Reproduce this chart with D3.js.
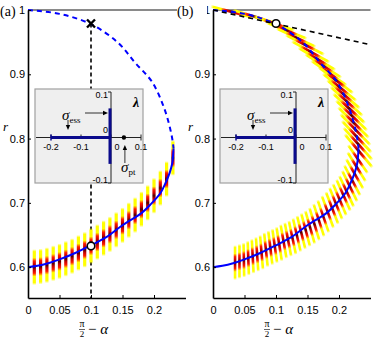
<!DOCTYPE html>
<html>
<head>
<meta charset="utf-8">
<script src="https://cdn.jsdelivr.net/npm/d3@7"></script>
<style>
  body { margin: 0; background: #fff; }
  svg { display: block; }
  text { font-family: "Liberation Sans", Arial, sans-serif; fill: #000; }
  .serif { font-family: "Liberation Serif", "DejaVu Serif", serif; }
</style>
</head>
<body>
<div id="chart"></div>
<script>
// ---- data ----
const xTicks = [0, 0.05, 0.1, 0.15, 0.2];
const yTicks = [0.6, 0.7, 0.8, 0.9, 1];

// blue curve, upper (dashed) branch and lower (solid) branch
const dashX = [0, 0.05, 0.1, 0.143, 0.17, 0.197, 0.217, 0.228, 0.231];
const dashR = [1, 0.994, 0.978, 0.949, 0.918, 0.888, 0.845, 0.805, 0.785];
const solidX = [0.231, 0.229, 0.225, 0.217, 0.21, 0.195, 0.18, 0.151, 0.125, 0.1, 0.075, 0.05, 0.032, 0.015, 0];
const solidR = [0.785, 0.762, 0.747, 0.728, 0.715, 0.698, 0.684, 0.666, 0.647, 0.634, 0.622, 0.612, 0.606, 0.602, 0.6];

// panel (a) distributions (vertical streaks)
const aStreakX = [0.01, 0.02, 0.03, 0.04, 0.05, 0.06, 0.07, 0.08, 0.09, 0.10, 0.11, 0.12,
                  0.13, 0.14, 0.15, 0.16, 0.17, 0.18, 0.19, 0.20, 0.21, 0.22, 0.23];
const aStreakR = [0.600, 0.601, 0.603, 0.606, 0.609, 0.613, 0.617, 0.622, 0.627, 0.633, 0.639, 0.645,
                  0.651, 0.658, 0.665, 0.673, 0.681, 0.690, 0.700, 0.711, 0.723, 0.737, 0.770];

// panel (b) distributions (tilted streaks): upper branch first, then lower branch
const bUpperX = [0.03, 0.065, 0.097, 0.117, 0.132, 0.146, 0.155, 0.165, 0.175, 0.184, 0.195, 0.201,
                 0.207, 0.212, 0.216, 0.220, 0.223, 0.226, 0.228, 0.230, 0.231];
const bUpperR = [0.997, 0.990, 0.979, 0.968, 0.957, 0.946, 0.935, 0.924, 0.913, 0.902, 0.891, 0.880,
                 0.869, 0.858, 0.847, 0.836, 0.825, 0.814, 0.803, 0.792, 0.781];
const bUpperAng = [15, 17, 19, 22, 25, 27, 29, 31, 33, 35, 37, 39,
                   41, 42, 43, 44, 45, 46, 47, 48, 50];
const bLowerX = [0.230, 0.228, 0.225, 0.221, 0.217, 0.212, 0.207, 0.201, 0.195, 0.189, 0.182, 0.175,
                 0.168, 0.161, 0.154, 0.147, 0.140, 0.133, 0.126, 0.119, 0.112, 0.105, 0.098, 0.091,
                 0.084, 0.077, 0.070, 0.063, 0.056, 0.049, 0.042, 0.035];
const bLowerR = [0.768, 0.756, 0.745, 0.735, 0.726, 0.718, 0.712, 0.705, 0.699, 0.692, 0.686, 0.679,
                 0.673, 0.667, 0.662, 0.658, 0.654, 0.650, 0.646, 0.643, 0.640, 0.636, 0.633, 0.630,
                 0.627, 0.623, 0.620, 0.617, 0.614, 0.611, 0.609, 0.607];
const bLowerAng = [55, 58, 60, 62, 64, 65, 66, 67, 68, 69, 70, 71,
                   72, 73, 74, 75, 76, 77, 78, 79, 80, 81, 82, 83,
                   84, 85, 86, 87, 88, 89, 90, 90];

// marked points
const markX = 0.1, markTopR = 0.979, markLowR = 0.633;
const tangentX = [0, 0.25];
const tangentR = [1, 0.946];

// inset (spectrum) data
const insetXTicks = [-0.2, -0.1, 0, 0.1];
const insetYTicks = [-0.1, 0, 0.1];
const essReal = [-0.2, -0.004];
const essImag = [-0.058, 0.064];
const sigmaPt = 0.043;

// ---- drawing ----
const W = 374, H = 339;
const svg = d3.select('#chart').append('svg').attr('width', W).attr('height', H);

const defs = svg.append('defs');
const grad = defs.append('linearGradient').attr('id', 'streak')
  .attr('x1', 0).attr('y1', 0).attr('x2', 0).attr('y2', 1);
[[0, '#ffff00', 0], [0.07, '#ffff00', 1], [0.24, '#ffff00', 1], [0.33, '#ff1a00', 1],
 [0.43, '#c00000', 1], [0.5, '#500000', 1], [0.57, '#c00000', 1], [0.67, '#ff1a00', 1],
 [0.76, '#ffff00', 1], [0.93, '#ffff00', 1], [1, '#ffff00', 0]].forEach(s => {
  grad.append('stop').attr('offset', s[0]).attr('stop-color', s[1]).attr('stop-opacity', s[2]);
});

const line = d3.line().curve(d3.curveCatmullRom);

function streaks(g, x, y, xs, rs, angs, w, len) {
  g.append('g').selectAll('rect')
    .data(xs.map((d, i) => ({ x: d, r: rs[i], a: angs[i] })))
    .join('rect')
    .attr('x', -w / 2).attr('y', -len / 2).attr('width', w).attr('height', len)
    .attr('transform', d => `translate(${x(d.x)},${y(d.r)}) rotate(${d.a - 90})`)
    .attr('fill', 'url(#streak)');
}

function drawPanel(ox, label, opts) {
  const g = svg.append('g');
  const x = d3.scaleLinear().domain([0, 0.25]).range([28 + ox, 185.5 + ox]);
  const y = d3.scaleLinear().domain([0.552, 1]).range([298, 10]);

  // r = 1 reference line
  g.append('line').attr('x1', x(0)).attr('x2', x(0.25)).attr('y1', y(1)).attr('y2', y(1))
    .attr('stroke', '#8a8a8a').attr('stroke-width', 2);

  if (opts.vline) {
    g.append('line').attr('x1', x(markX)).attr('x2', x(markX)).attr('y1', y(markTopR)).attr('y2', y(0.552))
      .attr('stroke', '#000').attr('stroke-width', 1.6).attr('stroke-dasharray', '4,3');
  }

  // streaks
  if (opts.tilted) {
    streaks(g, x, y, bUpperX, bUpperR, bUpperAng, 2.8, 44);
    streaks(g, x, y, bLowerX, bLowerR, bLowerAng, 2.6, 35);
  } else {
    streaks(g, x, y, aStreakX, aStreakR, aStreakX.map(() => 90), 3.2, 36);
  }

  // blue curve
  g.append('path').attr('d', line(dashX.map((d, i) => [x(d), y(dashR[i])])))
    .attr('fill', 'none').attr('stroke', '#0000ff').attr('stroke-width', 2).attr('stroke-dasharray', '5,4');
  g.append('path').attr('d', line(solidX.map((d, i) => [x(d), y(solidR[i])])))
    .attr('fill', 'none').attr('stroke', '#0000ff').attr('stroke-width', 2);

  if (opts.tangent) {
    g.append('path').attr('d', d3.line()(tangentX.map((d, i) => [x(d), y(tangentR[i])])))
      .attr('fill', 'none').attr('stroke', '#000').attr('stroke-width', 1.6).attr('stroke-dasharray', '5,4');
  }

  // markers
  if (opts.cross) {
    const cx = x(markX), cy = y(markTopR), s = 4;
    g.append('path').attr('d', `M${cx - s},${cy - s}L${cx + s},${cy + s}M${cx - s},${cy + s}L${cx + s},${cy - s}`)
      .attr('stroke', '#000').attr('stroke-width', 2.4);
  }
  const circR = opts.cross ? markLowR : markTopR;
  g.append('circle').attr('cx', x(markX)).attr('cy', y(circR)).attr('r', 3.8)
    .attr('fill', '#fff').attr('stroke', '#000').attr('stroke-width', 1.6);

  // axes
  const ax = g.append('g').attr('transform', `translate(0,${y(0.552)})`)
    .call(d3.axisBottom(x).tickValues(xTicks).tickSizeInner(-3).tickSizeOuter(0).tickFormat(d3.format('')));
  ax.select('.domain').attr('stroke-width', 1.6);
  ax.selectAll('text').attr('dy', null).attr('y', 16).style('font-size', '11px');
  const ay = g.append('g').attr('transform', `translate(${x(0)},0)`)
    .call(d3.axisLeft(y).tickValues(yTicks).tickSizeInner(-3).tickSizeOuter(0).tickFormat(d3.format('')));
  ay.select('.domain').attr('stroke-width', 1.6);
  ay.selectAll('text').attr('x', -3).style('font-size', '11px');
  [ax, ay].forEach(a => a.attr('font-family', null).attr('font-size', null));

  // axis labels
  const xl = g.append('g').attr('transform', `translate(${x(0.1) - 13},0)`);
  xl.append('text').attr('class', 'serif').attr('x', 4).attr('y', 327).attr('text-anchor', 'middle')
    .style('font-size', '10px').text('π');
  xl.append('line').attr('x1', 1).attr('x2', 7).attr('y1', 329.5).attr('y2', 329.5).attr('stroke', '#000').attr('stroke-width', 0.6);
  xl.append('text').attr('class', 'serif').attr('x', 4).attr('y', 337).attr('text-anchor', 'middle')
    .style('font-size', '9px').text('2');
  xl.append('text').attr('class', 'serif').attr('x', 10).attr('y', 334).style('font-size', '15px')
    .html('− <tspan font-style="italic">α</tspan>');
  g.append('text').attr('class', 'serif').attr('x', x(0) - 25).attr('y', 131).style('font-size', '13px')
    .style('font-style', 'italic').text('r');

  // panel label
  const lx = ox === 0 ? 0 : ox - 8;
  if (opts.labelBg) {
    g.append('rect').attr('x', lx).attr('y', 0).attr('width', 30).attr('height', 20).attr('fill', '#fff');
  }
  g.append('text').attr('class', 'serif').attr('x', lx).attr('y', 16).style('font-size', '14px').text(label);

  // ---- inset ----
  const ix = d3.scaleLinear().domain([-0.2, 0.1]).range([51 + ox, 141 + ox]);
  const iy = d3.scaleLinear().domain([-0.1, 0.1]).range([183, 92]);
  const ins = g.append('g');
  ins.append('rect').attr('x', 35 + ox).attr('y', 89).attr('width', 108).attr('height', 94)
    .attr('fill', '#efefef').attr('stroke', '#a0a0a0').attr('stroke-width', 1.2);
  // real axis
  ins.append('line').attr('x1', 36 + ox).attr('x2', ix(0.1)).attr('y1', iy(0)).attr('y2', iy(0))
    .attr('stroke', '#222').attr('stroke-width', 1);
  ins.selectAll('.xt').data(insetXTicks).join('line')
    .attr('x1', d => ix(d)).attr('x2', d => ix(d))
    .attr('y1', d => iy(0) - 3).attr('y2', d => d === 0.1 ? iy(0) + 3 : iy(0))
    .attr('stroke', '#222').attr('stroke-width', 1);
  ins.selectAll('.xl').data(insetXTicks).join('text')
    .attr('x', d => d === 0 ? ix(d) + 6 : ix(d)).attr('y', iy(0) + 12)
    .attr('text-anchor', 'middle').style('font-size', '9px')
    .text(d => d3.format('')(d).replace('−', '-'));
  // imaginary axis
  ins.append('line').attr('x1', ix(0)).attr('x2', ix(0)).attr('y1', iy(0.1)).attr('y2', iy(-0.1))
    .attr('stroke', '#222').attr('stroke-width', 1);
  ins.selectAll('.yt').data(insetYTicks.filter(d => d !== 0)).join('line')
    .attr('x1', ix(0) - 3).attr('x2', ix(0)).attr('y1', d => iy(d)).attr('y2', d => iy(d))
    .attr('stroke', '#222').attr('stroke-width', 1);
  ins.selectAll('.yl').data(insetYTicks).join('text')
    .attr('x', ix(0) - 3).attr('y', d => d === 0 ? iy(0) - 5 : iy(d) + (d > 0 ? 6 : 0))
    .attr('text-anchor', 'end').style('font-size', '9px')
    .text(d => d3.format('')(d).replace('−', '-'));
  // essential spectrum
  ins.append('line').attr('x1', ix(essReal[0])).attr('x2', ix(essReal[1])).attr('y1', iy(0)).attr('y2', iy(0))
    .attr('stroke', '#0a0a8c').attr('stroke-width', 3);
  ins.append('line').attr('x1', ix(essReal[0])).attr('x2', ix(essReal[0])).attr('y1', iy(0) - 3).attr('y2', iy(0) + 3)
    .attr('stroke', '#0a0a8c').attr('stroke-width', 1.5);
  ins.append('line').attr('x1', ix(0) - 1).attr('x2', ix(0) - 1).attr('y1', iy(essImag[1])).attr('y2', iy(essImag[0]))
    .attr('stroke', '#0a0a8c').attr('stroke-width', 3);
  // lambda label
  ins.append('text').attr('class', 'serif').attr('x', 133 + ox).attr('y', 107)
    .style('font-size', '14px').style('font-style', 'italic').style('font-weight', 'bold').text('λ');
  // sigma_ess label and arrows
  const lab = ins.append('text').attr('class', 'serif').attr('x', 62 + ox).attr('y', 120);
  lab.append('tspan').style('font-size', '15px').style('font-style', 'italic').text('σ');
  lab.append('tspan').attr('dy', 3).style('font-size', '9px').text('ess');
  arrow(ins, 85 + ox, 113, 108 + ox, 113);
  arrow(ins, 68 + ox, 120, 68 + ox, 130);
  if (opts.point) {
    ins.append('circle').attr('cx', ix(sigmaPt)).attr('cy', iy(0)).attr('r', 2.2).attr('fill', '#000');
    arrow(ins, ix(sigmaPt) + 1, 163, ix(sigmaPt) + 1, 145);
    const pl = ins.append('text').attr('class', 'serif').attr('x', 121 + ox).attr('y', 172);
    pl.append('tspan').style('font-size', '15px').style('font-style', 'italic').text('σ');
    pl.append('tspan').attr('dy', 3).style('font-size', '9px').text('pt');
  }
}

function arrow(g, x1, y1, x2, y2) {
  const a = Math.atan2(y2 - y1, x2 - x1), L = 5, w = 2.2;
  g.append('line').attr('x1', x1).attr('y1', y1)
    .attr('x2', x2 - (L - 1) * Math.cos(a)).attr('y2', y2 - (L - 1) * Math.sin(a))
    .attr('stroke', '#000').attr('stroke-width', 0.8);
  const bx = x2 - L * Math.cos(a), by = y2 - L * Math.sin(a);
  g.append('path').attr('d', `M${x2},${y2}L${bx - w * Math.sin(a)},${by + w * Math.cos(a)}L${bx + w * Math.sin(a)},${by - w * Math.cos(a)}Z`)
    .attr('fill', '#000');
}

drawPanel(0, '(a)', { vline: true, cross: true, point: true });
drawPanel(185, '(b)', { tilted: true, tangent: true, labelBg: true });
</script>
</body>
</html>
